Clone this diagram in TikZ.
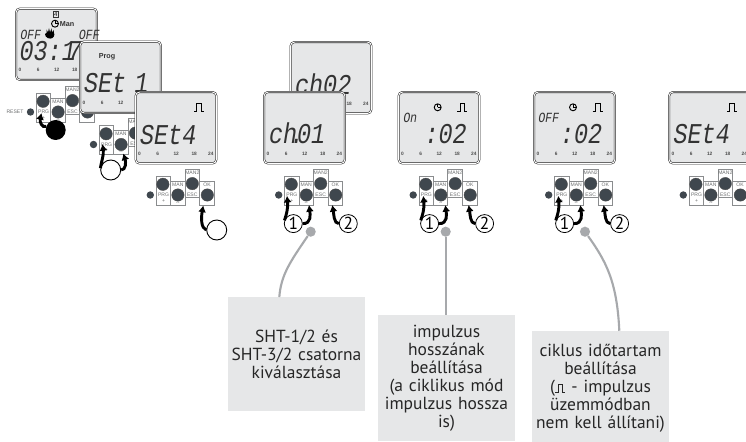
\documentclass[tikz,border=0pt]{standalone}
\usepackage{fontspec}
\setmainfont{PT Sans}
\newfontfamily\lcdfont[FakeSlant=0.16,FakeStretch=0.82]{Liberation Mono}
\newfontfamily\keyfont{Liberation Sans}
\usetikzlibrary{arrows.meta}
\definecolor{lcdgray}{HTML}{E6E7E8}
\definecolor{notegray}{HTML}{E6E7E8}
\definecolor{linegray}{HTML}{A7A9AC}
\definecolor{keygray}{HTML}{8A8C8E}
\definecolor{knobgray}{HTML}{3F474E}
\newcommand{\pulsemark}{\tikz[x=1pt,y=1pt,baseline=0pt,line width=.55pt]\draw (0,0) -- (2,0) -- (2,6) -- (5.5,6) -- (5.5,0) -- (7.5,0);}
\newcommand{\clockmark}{\tikz[x=1pt,y=1pt,line width=.7pt]{\draw (0,0) circle (2.6); \draw (0,0) -- (2.2,0) (0,0) -- (0,2.2);}}
\tikzset{
    lcdbox/.style={rectangle, draw=black!85, double=white, double distance=.7pt, line width=.4pt,
        rounded corners=3pt, fill=lcdgray, minimum width=60.6pt, minimum height=53.6pt, inner sep=0pt},
    hourlabel/.style={font=\keyfont\bfseries\fontsize{3.6}{4}\selectfont, text=black!70, inner sep=0pt},
    lcdbig/.style={font=\lcdfont\fontsize{21.5}{21.5}\selectfont, anchor=west, inner sep=0pt, text=black!80},
    lcdsmall/.style={font=\lcdfont\fontsize{10.5}{10.5}\selectfont, anchor=west, inner sep=0pt, text=black!80},
    lcdword/.style={font=\keyfont\bfseries\fontsize{5.4}{5.4}\selectfont, inner sep=0pt, text=black!80},
    keybox/.style={draw=keygray, fill=white, line width=.6pt},
    keyknob/.style={fill=knobgray, draw=black!70, line width=.3pt},
    keylabel/.style={font=\keyfont\fontsize{3.8}{4}\selectfont, text=keygray!80!black, inner sep=0pt},
    pressarrow/.style={-{Latex[length=5pt,width=6pt]}, line width=2.2pt, black},
    presscircle/.style={circle, draw=black, line width=.6pt, fill=white, minimum size=13.5pt, inner sep=0pt,
        font=\fontsize{13}{13}\selectfont},
    bigcircle/.style={circle, draw=black, line width=.7pt, fill=white, minimum size=15pt, inner sep=0pt},
    notebox/.style={rectangle, fill=notegray, text width=100pt, align=center, inner sep=0pt,
        minimum width=102.8pt, font=\fontsize{13.1}{13.5}\selectfont, text=black!85},
    notedot/.style={circle, fill=linegray, minimum size=7.6pt, inner sep=0pt},
    noteline/.style={draw=linegray, line width=1.6pt},
    lcdpanel/.pic={
        \node[lcdbox] (-box) at (41.5,36.75) {};
        \foreach \hr/\px in {0/5, 6/23.3, 12/41.7, 18/59.7, 24/76.3}
            \node[hourlabel] (-h\hr) at (\px,62.7) {\hr};
    },
    keypad/.pic={
        \fill[knobgray] (0,0) circle (3.7);
        \draw[keybox] (6,-18.7) rectangle (20.3,10.3);
        \draw[keybox] (20.3,-14) rectangle (34.6,10.3);
        \draw[keybox] (34.6,-25.7) rectangle (49.3,2.3);
        \draw[keybox] (49.3,-14) rectangle (64,10.3);
        \node[keylabel] (-prg) at (13.2,0) {PRG};
        \node[keylabel] (-plus) at (13.2,6) {+};
        \node[keylabel] (-man) at (27.5,-10.7) {MAN};
        \node[keylabel] (-minus) at (27.5,8.3) {--};
        \node[keylabel] (-mantwo) at (42,-22.7) {MAN2};
        \node[keylabel] (-esc) at (42,-.5) {ESC};
        \node[keylabel] (-ok) at (56.7,-10.7) {OK};
        \draw[keyknob] (12.6,-10.7) circle (6.2);
        \draw[keyknob] (27.6,0) circle (6.2);
        \draw[keyknob] (42,-11.4) circle (6.2);
        \draw[keyknob] (57,0) circle (6.2);
    },
    pressmark/.pic={
        \coordinate (-tipa) at (8.3,.8);
        \coordinate (-tipb) at (30.3,10);
        \coordinate (-tipc) at (53.6,10);
        \node[presscircle] (-one) at (14.6,28.6) {1};
        \node[presscircle] (-two) at (69.6,28.6) {2};
        \draw[pressarrow] (-one.160) .. controls (7.5,20) and (9.5,14) .. (-tipa);
        \draw[pressarrow] (-one.east) .. controls (33,29) and (31.5,19) .. (-tipb);
        \draw[pressarrow] (-two.west) .. controls (55,29) and (55,18) .. (-tipc);
    }
}
\begin{document}
\begin{tikzpicture}[x=.75pt, y=-.75pt]
    \useasboundingbox (0,0) rectangle (746,442);
    \clip (0,0) rectangle (746,442);

    \pic (da) at (15,7.5) {lcdpanel};
    \node[draw=black!80, line width=.4pt, minimum size=4.4pt, inner sep=0pt, font=\keyfont\fontsize{4.4}{5}\selectfont] (dagroup) at (55.7,14.7) {4};
    \node[inner sep=0pt] (daclock) at (55,23.7) {\clockmark};
    \node[lcdword] (daman) at (67,24) {Man};
    \node[lcdsmall] (daoffa) at (19.5,34.5) {OFF};
    \node[lcdsmall] (daoffb) at (78,34.5) {OFF};
    \node[lcdbig] (datime) at (18,51) {03:1\kern-.28em 7};
    \fill (45,34) .. controls (45,38) and (50,39.5) .. (52.5,38) .. controls (55,36.5) and (54.5,33) .. (53.5,30)
        -- (52,32.5) -- (51.5,28.5) -- (50,32.5) -- (49,28) -- (48,32.5) -- (46.5,29.5) -- (46.5,33) -- cycle;
    \pic (ka) at (30.5,112) {keypad};
    \node[keylabel] (kareset) at (15,112) {RESET};
    \coordinate (katip) at (41.5,113);
    \node[circle, fill=black, minimum size=15pt, inner sep=0pt] (kacirc) at (55.7,130) {};
    \draw[pressarrow] (kacirc.160) .. controls (42,128) and (39.5,122) .. (katip);

    \pic (db) at (79,40.5) {lcdpanel};
    \node[lcdword] (dbprog) at (107,56.7) {Prog};
    \node[lcdbig] (dbset) at (82.5,83.5) {SEt\kern-.2em\ 1};
    \pic (kb) at (93.5,144.5) {keypad};
    \node[bigcircle] (kbcirc) at (110.7,170) {};
    \coordinate (kbtipa) at (102.5,144);
    \coordinate (kbtipb) at (123.3,153.5);
    \draw[pressarrow] (kbcirc.170) .. controls (101,163) and (104,155) .. (kbtipa);
    \draw[pressarrow] (kbcirc.east) .. controls (126,170) and (126,162) .. (kbtipb);

    \pic (dc) at (134.5,91) {lcdpanel};
    \node[inner sep=0pt] (dcpulse) at (199,107) {\pulsemark};
    \node[lcdbig] (dcset) at (138.5,135) {SEt4};
    \pic (kc) at (150.3,195) {keypad};
    \node[bigcircle] (kccirc) at (216.7,230) {};
    \coordinate (kctip) at (203.3,205.5);
    \draw[pressarrow] (kccirc.west) .. controls (201,228) and (201,218) .. (kctip);

    \pic (dd) at (289.5,41) {lcdpanel};
    \node[lcdbig] (ddch) at (293.5,84) {ch02};
    \pic (de) at (263,91) {lcdpanel};
    \node[lcdbig] (dech) at (267.5,133) {ch\kern-.25em.\kern-.25em01};
    \pic (ke) at (278.7,195) {keypad};
    \pic (me) at (278.7,195) {pressmark};

    \pic (df) at (397.5,91) {lcdpanel};
    \node[lcdsmall] (dfon) at (402.5,117.5) {On};
    \node[inner sep=0pt] (dfclock) at (437.7,107.3) {\clockmark};
    \node[inner sep=0pt] (dfpulse) at (462.3,107) {\pulsemark};
    \node[lcdbig] (dftime) at (423,134) {:02};
    \pic (kf) at (413.2,195) {keypad};
    \pic (mf) at (415,195) {pressmark};

    \pic (dg) at (533,91) {lcdpanel};
    \node[lcdsmall] (dgoff) at (537.5,117.5) {OFF};
    \node[inner sep=0pt] (dgclock) at (573,107.3) {\clockmark};
    \node[inner sep=0pt] (dgpulse) at (597.7,107) {\pulsemark};
    \node[lcdbig] (dgtime) at (558.5,134) {:02};
    \pic (kg) at (548.7,195) {keypad};
    \pic (mg) at (550,195) {pressmark};

    \pic (dh) at (668,91) {lcdpanel};
    \node[inner sep=0pt] (dhpulse) at (732,107) {\pulsemark};
    \node[lcdbig] (dhset) at (672,134) {SEt4};
    \pic (kh) at (683.3,195) {keypad};

    \node[notebox, minimum height=85pt] (notea) at (296.5,354) {SHT-1/2 és\\SHT-3/2 csatorna\\kiválasztása};
    \node[notebox, minimum height=94.5pt] (noteb) at (446.5,378) {impulzus\\hosszának\\beállítása\\(a ciklikus mód\\impulzus hossza\\is)};
    \node[notebox, minimum height=85.5pt] (notec) at (600.5,388) {ciklus időtartam\\beállítása\\(\pulsemark\ - impulzus\\üzemmódban\\nem kell állítani)};

    \node[notedot] (dota) at (310.7,231.7) {};
    \node[notedot] (dotb) at (445.7,231.7) {};
    \node[notedot] (dotc) at (585,231.7) {};
    \draw[noteline] (dota) .. controls (290,262) and (281,275) .. (notea.north -| 279.3,0);
    \draw[noteline] (dotb) -- (noteb.north -| dotb);
    \draw[noteline] (dotc) .. controls (605,260) and (617,280) .. (notec.north -| 619.3,0);
\end{tikzpicture}
\end{document}
